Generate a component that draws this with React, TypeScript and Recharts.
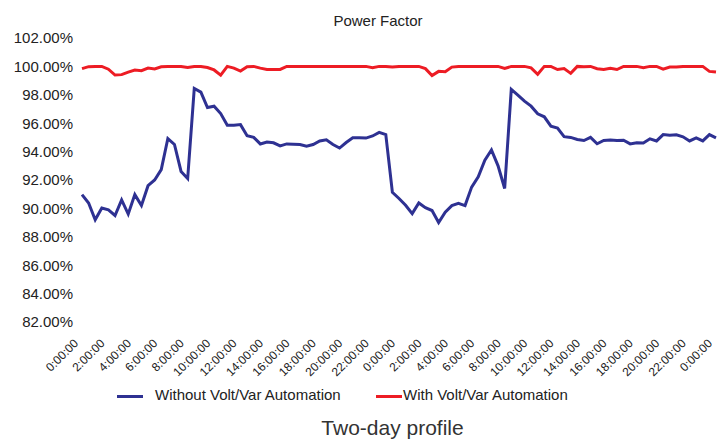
import React from 'react';
import { LineChart, Line, XAxis, YAxis, Legend } from 'recharts';

const times: string[] = [
  '0:00:00','0:30:00','1:00:00','1:30:00','2:00:00','2:30:00','3:00:00','3:30:00',
  '4:00:00','4:30:00','5:00:00','5:30:00','6:00:00','6:30:00','7:00:00','7:30:00',
  '8:00:00','8:30:00','9:00:00','9:30:00','10:00:00','10:30:00','11:00:00','11:30:00',
  '12:00:00','12:30:00','13:00:00','13:30:00','14:00:00','14:30:00','15:00:00','15:30:00',
  '16:00:00','16:30:00','17:00:00','17:30:00','18:00:00','18:30:00','19:00:00','19:30:00',
  '20:00:00','20:30:00','21:00:00','21:30:00','22:00:00','22:30:00','23:00:00','23:30:00',
  '0:00:00','0:30:00','1:00:00','1:30:00','2:00:00','2:30:00','3:00:00','3:30:00',
  '4:00:00','4:30:00','5:00:00','5:30:00','6:00:00','6:30:00','7:00:00','7:30:00',
  '8:00:00','8:30:00','9:00:00','9:30:00','10:00:00','10:30:00','11:00:00','11:30:00',
  '12:00:00','12:30:00','13:00:00','13:30:00','14:00:00','14:30:00','15:00:00','15:30:00',
  '16:00:00','16:30:00','17:00:00','17:30:00','18:00:00','18:30:00','19:00:00','19:30:00',
  '20:00:00','20:30:00','21:00:00','21:30:00','22:00:00','22:30:00','23:00:00','23:30:00',
  '0:00:00',
];

const withoutVVA: number[] = [
  90.97, 90.38, 89.2, 90.03, 89.9, 89.5, 90.6, 89.6, 90.97, 90.2,
  91.6, 92.0, 92.73, 94.92, 94.5, 92.6, 92.1, 98.45, 98.19, 97.1,
  97.2, 96.68, 95.85, 95.85, 95.9, 95.12, 95.0, 94.54, 94.68, 94.62,
  94.4, 94.54, 94.52, 94.5, 94.38, 94.5, 94.75, 94.83, 94.5, 94.25,
  94.64, 94.97, 94.97, 94.95, 95.1, 95.35, 95.2, 91.13, 90.7, 90.22,
  89.63, 90.38, 90.05, 89.85, 89.01, 89.74, 90.2, 90.35, 90.2, 91.5,
  92.22, 93.4, 94.12, 93.0, 91.4, 98.38, 97.98, 97.55, 97.2, 96.66,
  96.45, 95.79, 95.66, 95.05, 95.0, 94.85, 94.78, 95.0, 94.55, 94.78,
  94.82, 94.79, 94.8, 94.54, 94.63, 94.6, 94.9, 94.75, 95.2, 95.15,
  95.18, 95.04, 94.75, 94.97, 94.75, 95.2, 94.97,
];

const withVVA: number[] = [
  99.84, 99.98, 100, 100, 99.8, 99.39, 99.42, 99.6, 99.74, 99.7,
  99.88, 99.82, 99.97, 100, 100, 100, 99.92, 100, 100, 99.92,
  99.75, 99.39, 100, 99.88, 99.67, 99.98, 100, 99.88, 99.79, 99.79,
  99.79, 100, 100, 100, 100, 100, 100, 100, 100, 100,
  100, 100, 100, 100, 99.9, 100, 100, 99.95, 100, 100,
  100, 100, 99.84, 99.35, 99.65, 99.62, 99.95, 100, 100, 100,
  100, 100, 100, 100, 99.85, 100, 100, 100, 99.9, 99.45,
  100, 100, 99.78, 99.85, 99.51, 100, 99.98, 100, 99.84, 99.79,
  99.86, 99.78, 100, 100, 100, 99.9, 100, 100, 99.8, 99.95,
  99.95, 100, 100, 100, 100, 99.65, 99.6,
];

const yTicks: number[] = [82, 84, 86, 88, 90, 92, 94, 96, 98, 100, 102];

const seriesNames = ['Without Volt/Var Automation', 'With Volt/Var Automation'];
const chartTitle = 'Power Factor';
const xTitle = 'Two-day profile';

const BLUE = '#2e3192';
const RED = '#ed1c24';
const FONT = '"Liberation Sans", Arial, Helvetica, sans-serif';

const data = times.map((t, i) => ({ t, without: withoutVVA[i], with: withVVA[i] }));

const TimeTick = (props: any) => {
  const { x, y, payload } = props;
  return (
    <g transform={`translate(${x - 9},${y + 16})`}>
      <text
        textAnchor="end"
        transform="rotate(-45)"
        dy="0.71em"
        fontSize={12}
        fill="#222"
        fontFamily={FONT}
      >
        {payload.value}
      </text>
    </g>
  );
};

const LegendContent = () => (
  <div style={{ position: 'relative', width: 725, height: 26, fontFamily: FONT, fontSize: 15, color: '#222' }}>
    <div style={{ position: 'absolute', left: 117, top: 12, width: 26, height: 3, background: BLUE }} />
    <div style={{ position: 'absolute', left: 155, top: 4, lineHeight: '15px', whiteSpace: 'nowrap' }}>{seriesNames[0]}</div>
    <div style={{ position: 'absolute', left: 376, top: 12, width: 26, height: 3, background: RED }} />
    <div style={{ position: 'absolute', left: 403, top: 4, lineHeight: '15px', whiteSpace: 'nowrap' }}>{seriesNames[1]}</div>
  </div>
);

export default function App() {
  return (
    <div style={{ position: 'absolute', left: 0, top: 0, width: 725, height: 441, background: '#fff', fontFamily: FONT }}>
      <div style={{ position: 'absolute', left: 0, width: 756, top: 13, textAlign: 'center', fontSize: 15, lineHeight: '15px', color: '#222' }}>
        {chartTitle}
      </div>
      <LineChart width={725} height={441} data={data} margin={{ top: 38, right: 9, left: 0, bottom: 59 }}>
        <XAxis
          dataKey="t"
          interval={3}
          height={60}
          axisLine={false}
          tickLine={false}
          tickSize={0}
          tickMargin={0}
          tick={<TimeTick />}
        />
        <YAxis
          type="number"
          domain={[82, 102]}
          ticks={yTicks}
          width={82}
          axisLine={false}
          tickLine={false}
          tickSize={0}
          tickMargin={9}
          tickFormatter={(v: number) => `${v.toFixed(2)}%`}
          tick={{ fontSize: 15, fill: '#222', fontFamily: FONT }}
        />
        <Legend
          layout="horizontal"
          verticalAlign="middle"
          align="center"
          wrapperStyle={{ position: 'absolute', top: 383, left: 0, width: 725, height: 26 }}
          content={<LegendContent />}
        />
        <Line
          type="linear"
          dataKey="without"
          name={seriesNames[0]}
          stroke={BLUE}
          strokeWidth={3}
          dot={false}
          isAnimationActive={false}
        />
        <Line
          type="linear"
          dataKey="with"
          name={seriesNames[1]}
          stroke={RED}
          strokeWidth={3}
          dot={false}
          isAnimationActive={false}
        />
      </LineChart>
      <div style={{ position: 'absolute', left: 0, width: 785, top: 417, textAlign: 'center', fontSize: 21, lineHeight: '21px', color: '#333' }}>
        {xTitle}
      </div>
    </div>
  );
}
